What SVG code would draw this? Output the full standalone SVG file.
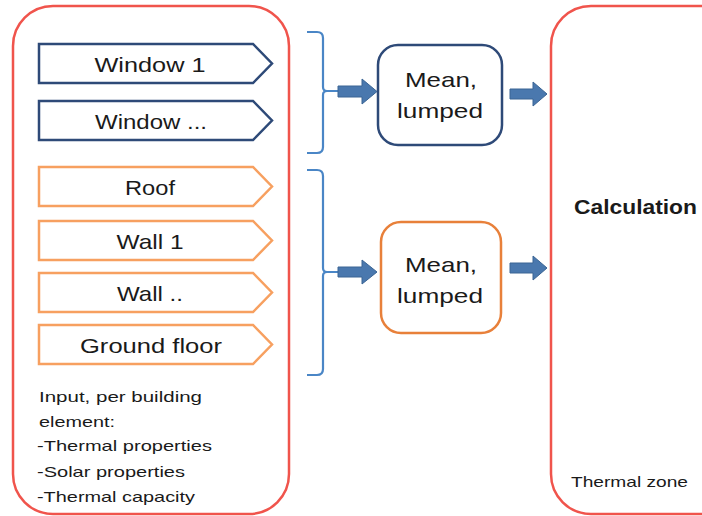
<svg xmlns="http://www.w3.org/2000/svg" width="702" height="516" viewBox="0 0 702 516">
  <style>
    .zone { fill: #ffffff; stroke: #f0544c; stroke-width: 2.5; }
    .win { fill: #ffffff; stroke: #2e4a78; stroke-width: 2.5; }
    .elem { fill: #ffffff; stroke: #f7a060; stroke-width: 2.5; }
    .meanA { fill: #ffffff; stroke: #2e4a78; stroke-width: 2.5; }
    .meanB { fill: #ffffff; stroke: #e8803a; stroke-width: 2.5; }
    .brace { fill: none; stroke: #4a86c6; stroke-width: 2.2; }
    .arrow { fill: #4a78ae; stroke: #3a6494; stroke-width: 1; }
    .lbl { font-family: "Liberation Sans", "DejaVu Sans", sans-serif; fill: #1a1a1a; }
    .big { font-size: 21px; text-anchor: middle; }
    .small { font-size: 15px; }
  </style>

  <!-- building element container -->
  <g id="elements-box">
    <rect class="zone" x="13" y="6" width="276" height="508" rx="40" ry="40"/>
    <text class="lbl small" x="39" y="402" textLength="163" lengthAdjust="spacingAndGlyphs">Input, per building</text>
    <text class="lbl small" x="39" y="427" textLength="76" lengthAdjust="spacingAndGlyphs">element:</text>
    <text class="lbl small" x="37" y="451" textLength="175" lengthAdjust="spacingAndGlyphs">-Thermal properties</text>
    <text class="lbl small" x="37" y="477" textLength="148" lengthAdjust="spacingAndGlyphs">-Solar properties</text>
    <text class="lbl small" x="37" y="502" textLength="158" lengthAdjust="spacingAndGlyphs">-Thermal capacity</text>
  </g>

  <g id="window-1">
    <polygon class="win" points="39,44 253,44 272,63.5 253,83 39,83"/>
    <text class="lbl big" x="150" y="72" textLength="111" lengthAdjust="spacingAndGlyphs">Window 1</text>
  </g>
  <g id="window-n">
    <polygon class="win" points="39,101 253,101 272,120.5 253,140 39,140"/>
    <text class="lbl big" x="151" y="129" textLength="112" lengthAdjust="spacingAndGlyphs">Window ...</text>
  </g>
  <g id="roof">
    <polygon class="elem" points="39,167 253,167 272,186.5 253,206 39,206"/>
    <text class="lbl big" x="150" y="195" textLength="50" lengthAdjust="spacingAndGlyphs">Roof</text>
  </g>
  <g id="wall-1">
    <polygon class="elem" points="39,221 253,221 272,240.5 253,260 39,260"/>
    <text class="lbl big" x="150" y="249" textLength="67" lengthAdjust="spacingAndGlyphs">Wall 1</text>
  </g>
  <g id="wall-n">
    <polygon class="elem" points="39,273 253,273 272,292.5 253,312 39,312"/>
    <text class="lbl big" x="150" y="301" textLength="66" lengthAdjust="spacingAndGlyphs">Wall ..</text>
  </g>
  <g id="ground-floor">
    <polygon class="elem" points="39,325 253,325 272,344.5 253,364 39,364"/>
    <text class="lbl big" x="151" y="353" textLength="142" lengthAdjust="spacingAndGlyphs">Ground floor</text>
  </g>

  <g id="mean-windows">
    <rect class="meanA" x="378" y="45" width="124" height="100" rx="20" ry="20"/>
    <text class="lbl big" x="441" y="87" textLength="72" lengthAdjust="spacingAndGlyphs">Mean,</text>
    <text class="lbl big" x="440" y="118" textLength="86" lengthAdjust="spacingAndGlyphs">lumped</text>
  </g>
  <g id="mean-opaque">
    <rect class="meanB" x="381" y="222" width="120" height="111" rx="20" ry="20"/>
    <text class="lbl big" x="441" y="272" textLength="72" lengthAdjust="spacingAndGlyphs">Mean,</text>
    <text class="lbl big" x="440" y="303" textLength="86" lengthAdjust="spacingAndGlyphs">lumped</text>
  </g>

  <g id="thermal-zone">
    <rect class="zone" x="551" y="6" width="200" height="508" rx="40" ry="40"/>
    <text class="lbl" x="574" y="214" font-size="21" font-weight="bold" textLength="123" lengthAdjust="spacingAndGlyphs">Calculation</text>
    <text class="lbl" x="571" y="487" font-size="15" textLength="117" lengthAdjust="spacingAndGlyphs">Thermal zone</text>
  </g>

  <g id="connectors">
    <!-- braces grouping the element rows, each with a stub into its arrow -->
    <path class="brace" d="M307,32 H317 Q323,32 323,38 V87 Q323,91 327,91 H338 M327,91 Q323,91 323,95 V147 Q323,153 317,153 H307"/>
    <path class="brace" d="M307,170 H317 Q323,170 323,176 V268 Q323,272 327,272 H338 M327,272 Q323,272 323,276 V369 Q323,375 317,375 H307"/>
    <polygon class="arrow" points="338,86 362,86 362,79 377,91.5 362,104 362,97 338,97"/>
    <polygon class="arrow" points="510,89 533,89 533,82 547,94 533,106 533,99 510,99"/>
    <polygon class="arrow" points="338,267 362,267 362,260 377,272 362,284 362,277 338,277"/>
    <polygon class="arrow" points="510,263 533,263 533,256 547,268 533,280 533,273 510,273"/>
  </g>
</svg>
